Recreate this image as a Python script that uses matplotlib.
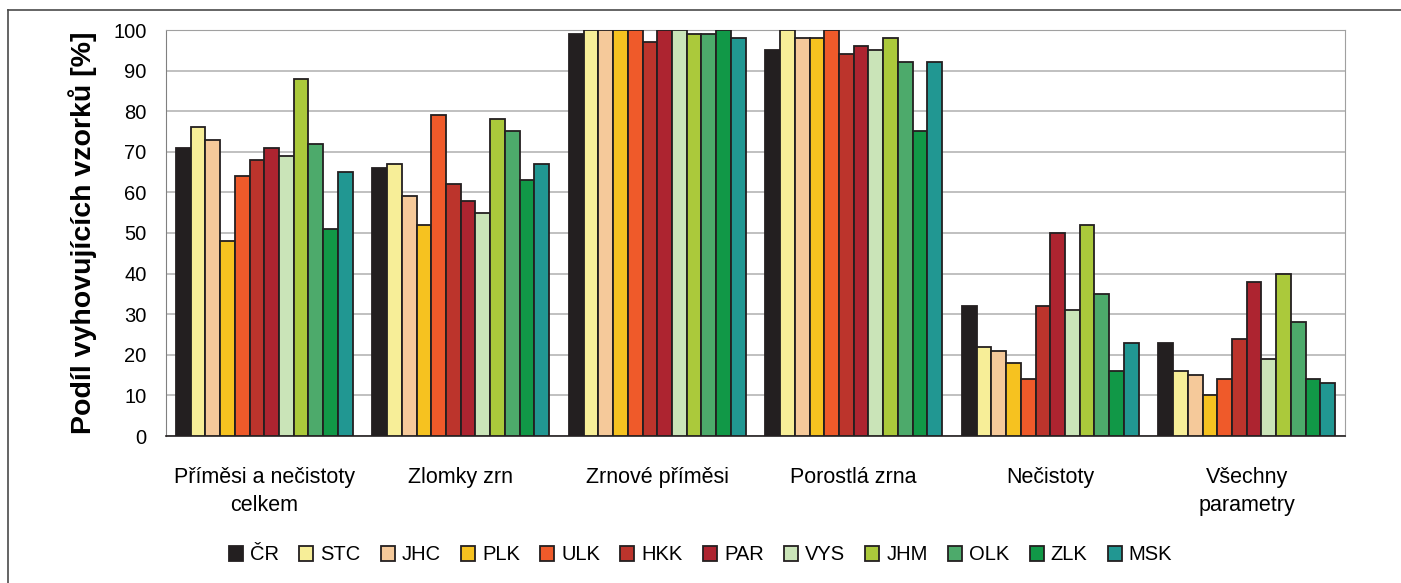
import numpy as np
import matplotlib.pyplot as plt
from matplotlib.lines import Line2D

categories = ['Příměsi a nečistoty\ncelkem', 'Zlomky zrn', 'Zrnové příměsi',
              'Porostlá zrna', 'Nečistoty', 'Všechny\nparametry']
regions = ['ČR', 'STC', 'JHC', 'PLK', 'ULK', 'HKK', 'PAR', 'VYS', 'JHM', 'OLK', 'ZLK', 'MSK']
colors = ['#231f20', '#f7ee98', '#f5c99a', '#f6c220', '#ef5a2a', '#bc342c',
          '#ad2430', '#cae4b8', '#abc93b', '#4daa6b', '#119847', '#219792']

# values per region, one per category
values = {
    'ČR':  [71, 66, 99, 95, 32, 23],
    'STC': [76, 67, 100, 100, 22, 16],
    'JHC': [73, 59, 100, 98, 21, 15],
    'PLK': [48, 52, 100, 98, 18, 10],
    'ULK': [64, 79, 100, 100, 14, 14],
    'HKK': [68, 62, 97, 94, 32, 24],
    'PAR': [71, 58, 100, 96, 50, 38],
    'VYS': [69, 55, 100, 95, 31, 19],
    'JHM': [88, 78, 99, 98, 52, 40],
    'OLK': [72, 75, 99, 92, 35, 28],
    'ZLK': [51, 63, 100, 75, 16, 14],
    'MSK': [65, 67, 98, 92, 23, 13],
}

plt.rcParams['font.family'] = ['Liberation Sans', 'DejaVu Sans']

fig = plt.figure(figsize=(14.01, 5.83), dpi=100)
ax = fig.add_axes([166/1401, 1-436/583, (1345-166)/1401, (436-30)/583])

x = np.arange(len(categories))
w = 0.9 / len(regions)
for i, r in enumerate(regions):
    ax.bar(x - 0.45 + w*(i+0.5), values[r], width=w, color=colors[i],
           edgecolor='#231f20', linewidth=1.3, label=r, zorder=3)

ax.set_xlim(-0.5, len(categories)-0.5)
ax.set_ylim(0, 100)
ax.set_yticks(range(0, 101, 10))
ax.tick_params(axis='y', labelsize=14.5, length=0, pad=14)
ax.set_xticks(x)
ax.set_xticklabels(categories, fontsize=15.5, linespacing=1.45)
ax.tick_params(axis='x', length=0, pad=22)
ax.grid(axis='y', color='#b5b5b5', linewidth=1.2, zorder=0)
ax.spines['top'].set_color('#a0a0a0')
ax.spines['left'].set_color('#808080')
ax.spines['right'].set_color('#a0a0a0')
ax.spines['bottom'].set_color('#231f20')
ax.spines['bottom'].set_linewidth(1.2)
ax.set_ylabel('Podíl vyhovujících vzorků [%]', fontsize=20.5, fontweight='bold', labelpad=12)

fig.legend(loc='center', bbox_to_anchor=(0.5, 1-555/583), ncol=12, frameon=False,
           fontsize=14.5, handlelength=0.7, handleheight=0.7, handletextpad=0.35,
           columnspacing=1.0)

# outer frame: only top and left lines
fy = 1 - 10/583
fx = 8/1401
fig.add_artist(Line2D([fx, 1], [fy, fy], transform=fig.transFigure, color='#4a4a4a', linewidth=1.2))
fig.add_artist(Line2D([fx, fx], [0, fy], transform=fig.transFigure, color='#4a4a4a', linewidth=1.2))

fig.savefig('out.png', dpi=100)
